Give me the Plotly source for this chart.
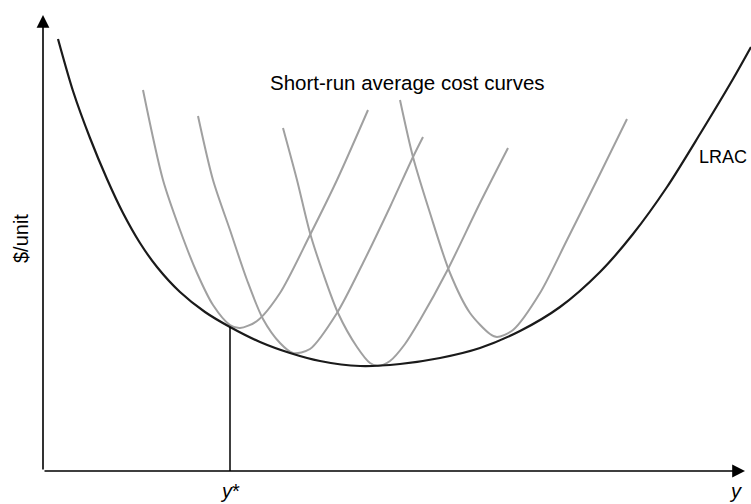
import plotly.graph_objects as go

# long-run average cost (output measured from the vertical axis, cost from the horizontal axis)
lrac_q = [15, 30, 47, 64, 80, 97, 114, 137, 162, 187, 217, 247, 277, 317, 357, 397, 437, 477, 517, 557, 590, 624, 657, 690, 708]
lrac_c = [432, 380, 333, 292, 258, 228, 204, 179, 159, 144, 129, 118, 110, 105, 107, 113, 123, 140, 164, 199, 237, 284, 337, 392, 424]

# short-run average cost curves
srac_a_q = [100, 120, 137, 154, 170, 187, 197, 214, 237, 267, 294, 325]
srac_a_c = [381, 291, 241, 198, 166, 146, 143, 150, 178, 236, 291, 361]

srac_b_q = [155, 170, 187, 204, 220, 237, 250, 267, 294, 320, 347, 370, 380]
srac_b_c = [355, 291, 241, 191, 152, 128, 118, 122, 158, 208, 264, 314, 334]

srac_c_q = [240, 254, 267, 280, 295, 314, 327, 335, 347, 362, 377, 404, 437, 465]
srac_c_c = [343, 291, 238, 198, 158, 124, 108, 105, 110, 127, 151, 200, 268, 323]

srac_d_q = [357, 370, 387, 407, 427, 447, 454, 470, 497, 524, 554, 584]
srac_d_c = [371, 314, 258, 198, 158, 137, 134, 141, 178, 231, 291, 352]

y_star = 187
y_star_cost = 144

FONT = "Liberation Sans, Arial, sans-serif"
GRAY = "rgb(160,160,160)"

fig = go.Figure()

for q, c in [(srac_a_q, srac_a_c), (srac_b_q, srac_b_c), (srac_c_q, srac_c_c), (srac_d_q, srac_d_c)]:
    fig.add_trace(go.Scatter(x=q, y=c, mode="lines", line=dict(color=GRAY, width=2, shape="spline", smoothing=0.8),
                             hoverinfo="skip", showlegend=False))

fig.add_trace(go.Scatter(x=lrac_q, y=lrac_c, mode="lines", line=dict(color="#1a1a1a", width=2.2, shape="spline", smoothing=0.8),
                         hoverinfo="skip", showlegend=False))

# y* drop line
fig.add_shape(type="line", x0=y_star, x1=y_star, y0=0, y1=y_star_cost, line=dict(color="black", width=1.5))

# axes with arrow heads
arrow = dict(showarrow=True, text="", axref="x", ayref="y", arrowhead=2, arrowsize=1.6, arrowwidth=1.6, arrowcolor="black")
fig.add_annotation(x=702, y=0, ax=0, ay=0, **arrow)
fig.add_annotation(x=0, y=456, ax=0, ay=0, **arrow)

txt = dict(showarrow=False, font=dict(family=FONT, size=20, color="black"))
fig.add_annotation(x=225, y=389, text="Short-run average cost curves", xanchor="left",
                   showarrow=False, font=dict(family=FONT, size=20.5, color="black"))
fig.add_annotation(x=654, y=314, text="LRAC", xanchor="left",
                   showarrow=False, font=dict(family=FONT, size=18, color="black"))
fig.add_annotation(x=-22, y=232, text="$/unit", textangle=-90, **txt)
fig.add_annotation(x=y_star, y=0, yref="paper", yanchor="bottom", text="<i>y</i>*", **txt)
fig.add_annotation(x=692, y=0, yref="paper", yanchor="bottom", text="<i>y</i>", **txt)

fig.update_layout(
    width=751,
    height=504,
    margin=dict(l=0, r=0, t=0, b=0),
    paper_bgcolor="white",
    plot_bgcolor="white",
    showlegend=False,
)
fig.update_xaxes(range=[-43, 708], visible=False, fixedrange=True)
fig.update_yaxes(range=[-33, 471], visible=False, fixedrange=True)

fig.write_html("out.html", config={"displayModeBar": False},
               post_script="document.body.style.margin='0';")
